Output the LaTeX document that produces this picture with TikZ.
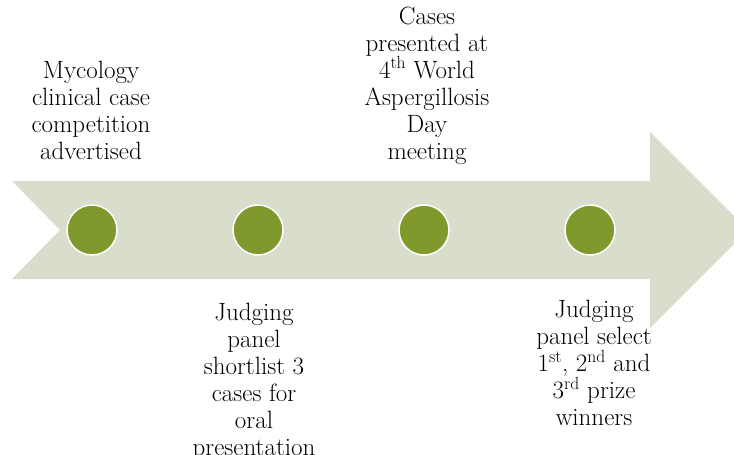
\documentclass[tikz,border=0pt]{standalone}
\usepackage{tikz}
\definecolor{sage}{RGB}{217,221,203}
\definecolor{olive}{RGB}{128,153,44}
\tikzset{
  stage/.style={circle,fill=olive,draw=white,line width=1.5pt,minimum size=50pt,inner sep=0pt},
  label/.style={align=center,inner sep=0pt,font=\fontsize{25}{27}\selectfont}
}
\begin{document}
\begin{tikzpicture}[x=1pt,y=-1pt]
      \useasboundingbox (0,0) rectangle (734,455);
      \clip (0,0) rectangle (734,455);
      \fill[sage] (12,181) -- (650,181) -- (650,132) -- (748,230) -- (650,328)
        -- (650,279) -- (12,279) -- (60,230) -- cycle;

      \node[stage] (s1) at (92 ,230) {};
      \node[stage] (s2) at (258,230) {};
      \node[stage] (s3) at (424,230) {};
      \node[stage] (s4) at (590,230) {};

      \node[label,anchor=base] (t1) at (91,159) {Mycology\\clinical case\\competition\\advertised};
      \node[label,anchor=base] (t3) at (427,159) {Cases\\presented at\\4\textsuperscript{th} World\\Aspergillosis\\Day\\meeting};
      \node[label,anchor=north] (t2) at (254,303) {Judging\\panel\\shortlist 3\\cases for\\oral\\presentation};
      \node[label,anchor=north] (t4) at (594,300) {Judging\\panel select\\1\textsuperscript{st}, 2\textsuperscript{nd} and\\3\textsuperscript{rd} prize\\winners};
\end{tikzpicture}
\end{document}
